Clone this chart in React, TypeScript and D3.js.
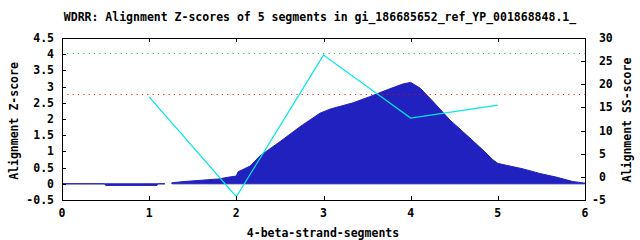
import React from "react";
import * as d3 from "d3";

const TITLE = "WDRR: Alignment Z-scores of 5 segments in gi_186685652_ref_YP_001868848.1_";
const X_LABEL = "4-beta-strand-segments";
const Y_LABEL = "Alignment Z-score";
const Y2_LABEL = "Alignment SS-score";

// Z-score profile (area), null = gap
const profileX = [0, 0.49, 0.5, 1.09, 1.1, 1.18, 1.22, 1.26, 1.4, 1.6, 1.8, 1.9, 2.0, 2.02, 2.16, 2.27, 2.5, 2.73, 2.96, 3.08, 3.34, 3.53, 3.73, 3.91, 4.0, 4.11, 4.26, 4.45, 4.64, 4.83, 4.94, 5.0, 5.1, 5.29, 5.48, 5.68, 5.86, 6.0];
const profileZ: (number | null)[] = [0, 0, -0.05, -0.05, 0, 0, null, 0.03, 0.07, 0.11, 0.15, 0.2, 0.24, 0.37, 0.55, 0.86, 1.3, 1.76, 2.18, 2.31, 2.5, 2.69, 2.9, 3.08, 3.13, 2.95, 2.53, 1.97, 1.51, 1.04, 0.75, 0.63, 0.57, 0.46, 0.32, 0.2, 0.07, 0.02];

// SS-scores of the segments (right axis)
const segX = [1, 2, 3, 4, 5];
const segSS = [17.3, -4.3, 26.3, 12.7, 15.5];

// threshold lines (Z units)
const greenLevel = 4.03;
const redLevel = 2.77;

const xTicks = [0, 1, 2, 3, 4, 5, 6];
const yTicks = [-0.5, 0, 0.5, 1, 1.5, 2, 2.5, 3, 3.5, 4, 4.5];
const y2Ticks = [-5, 0, 5, 10, 15, 20, 25, 30];

const W = 640, H = 240;
const L = 62, R = 585, T = 38, B = 200;
const FONT = "'DejaVu Sans Mono', monospace";
const FS = 11.5;
const CW = FS * 0.602;

export default function App() {
  const x = d3.scaleLinear().domain([0, 6]).range([L, R]);
  const y = d3.scaleLinear().domain([-0.5, 4.5]).range([B, T]);
  const y2 = d3.scaleLinear().domain([-5, 30]).range([B, T]);

  const prof = profileX.map((px, i) => ({ x: px, z: profileZ[i] }));
  const area = d3
    .area<{ x: number; z: number | null }>()
    .defined((d) => d.z != null)
    .x((d) => x(d.x))
    .y0(y(0))
    .y1((d) => y(d.z as number));

  const ssLine = d3
    .line<number>()
    .x((d, i) => x(segX[i]))
    .y((d) => y2(d));

  const fmt = (v: number) => (v < 0 ? "-" : "") + String(Math.abs(v));

  return (
    <svg
      width={W}
      height={H}
      style={{ position: "absolute", left: 0, top: 0, background: "#fff" }}
      fontFamily={FONT}
      fontSize={FS}
      fontWeight="bold"
    >
      <rect x={0} y={0} width={W} height={H} fill="#fff" />
      <text x={320} y={21} textAnchor="middle">{TITLE}</text>

      <path d={area(prof) || ""} fill="#2121bf" stroke="#2121bf" strokeWidth={1} />

      <line x1={L} x2={R} y1={Math.round(y(greenLevel)) + 0.5} y2={Math.round(y(greenLevel)) + 0.5}
        stroke="#00c000" strokeWidth={1} strokeDasharray="1 4.33" />
      <line x1={L} x2={R} y1={Math.round(y(redLevel)) + 0.5} y2={Math.round(y(redLevel)) + 0.5}
        stroke="#ff0000" strokeWidth={1} strokeDasharray="1 4.33" />

      <path d={ssLine(segSS) || ""} fill="none" stroke="#00e8e8" strokeWidth={1.2} />

      <g shapeRendering="crispEdges" stroke="#000" strokeWidth={1}>
        <rect x={L + 0.5} y={T + 0.5} width={R - L} height={B - T} fill="none" />
        {xTicks.slice(1, -1).map((t) => (
          <g key={"xt" + t}>
            <line x1={Math.round(x(t)) + 0.5} x2={Math.round(x(t)) + 0.5} y1={B} y2={B - 4} />
            <line x1={Math.round(x(t)) + 0.5} x2={Math.round(x(t)) + 0.5} y1={T} y2={T + 4} />
          </g>
        ))}
        {yTicks.slice(1, -1).map((t) => (
          <line key={"yt" + t} x1={L} x2={L + 4} y1={Math.round(y(t)) + 0.5} y2={Math.round(y(t)) + 0.5} />
        ))}
        {y2Ticks.slice(1, -1).map((t) => (
          <line key={"y2t" + t} x1={R} x2={R - 4} y1={Math.round(y2(t)) + 0.5} y2={Math.round(y2(t)) + 0.5} />
        ))}
      </g>

      {xTicks.map((t) => (
        <text key={"xl" + t} x={x(t)} y={217} textAnchor="middle">{fmt(t)}</text>
      ))}
      {yTicks.map((t) => (
        <text key={"yl" + t} x={54} y={y(t) + 4} textAnchor="end">{fmt(t)}</text>
      ))}
      {y2Ticks.map((t) => (
        <text key={"y2l" + t} x={592 + (t < 0 ? 0 : CW)} y={y2(t) + 4} textAnchor="start">{fmt(t)}</text>
      ))}

      <text x={323} y={237} textAnchor="middle">{X_LABEL}</text>
      <text transform={`translate(18,121) rotate(-90)`} textAnchor="middle">{Y_LABEL}</text>
      <text transform={`translate(631,120) rotate(-90)`} textAnchor="middle">{Y2_LABEL}</text>
    </svg>
  );
}
